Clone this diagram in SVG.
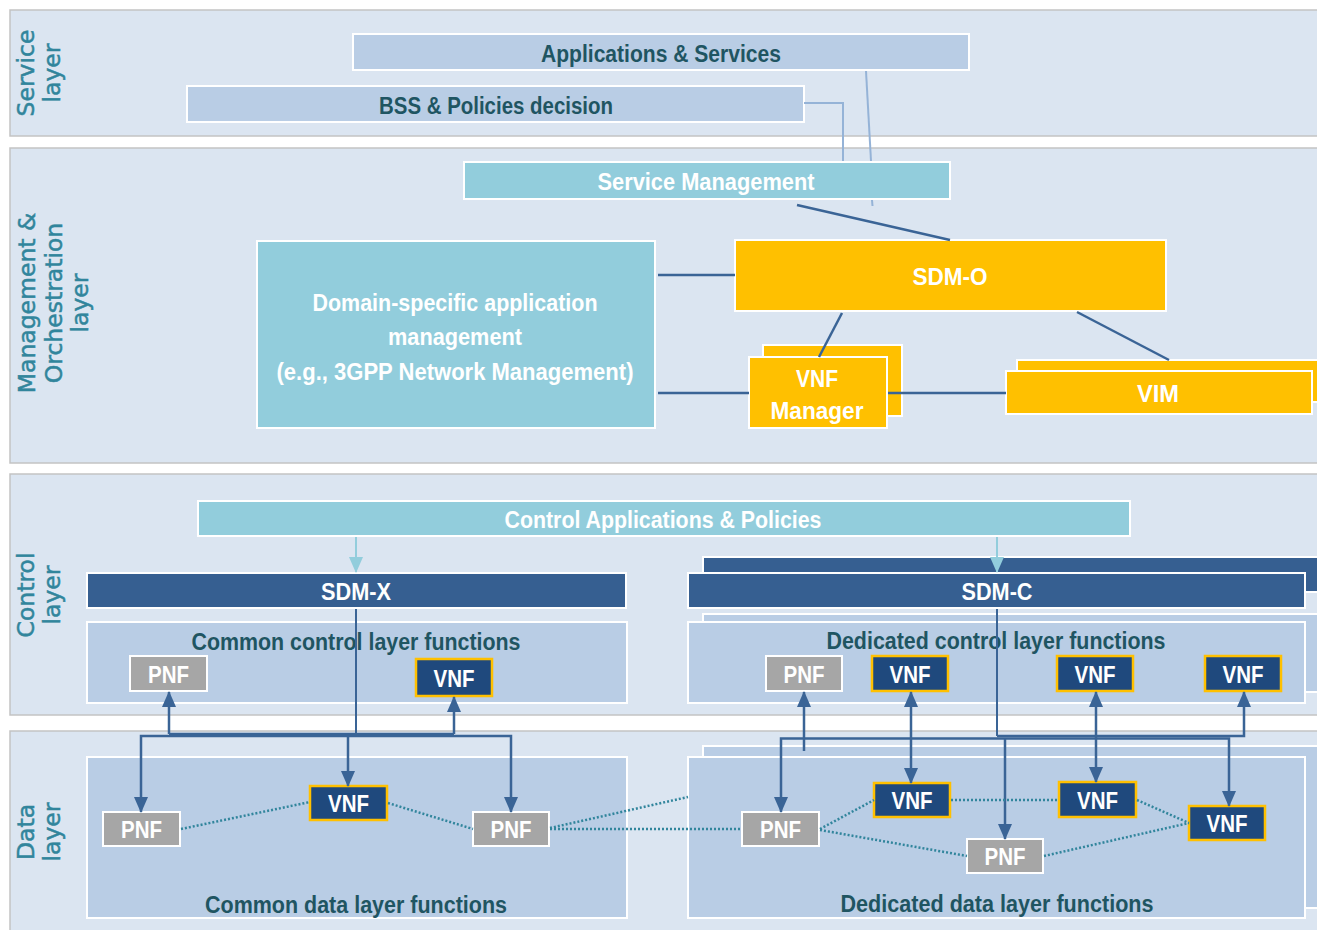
<svg xmlns="http://www.w3.org/2000/svg" width="1317" height="930" viewBox="0 0 1317 930">
<style>
.band{fill:#dbe5f1;stroke:#c3c3c3;stroke-width:1.5}
.lt{fill:#b9cde5;stroke:#fff;stroke-width:2}
.tl{fill:#92cddc;stroke:#fff;stroke-width:2}
.gd{fill:#ffc000;stroke:#fff;stroke-width:2}
.db{fill:#365f91;stroke:#fff;stroke-width:2}
.pnf{fill:#a6a6a6;stroke:#fff;stroke-width:2}
.vnf{fill:#1f497d;stroke:#ffc000;stroke-width:2.5}
.wt{fill:#fff;font-family:"Liberation Sans",Arial,sans-serif;font-weight:bold;font-size:23px;text-anchor:middle}
.dt{fill:#1f5562;font-family:"Liberation Sans",Arial,sans-serif;font-weight:bold;font-size:23px;text-anchor:middle}
.lay{fill:#31859c;stroke:#31859c;stroke-width:0.5;font-family:"DejaVu Sans",sans-serif;font-size:23.5px;text-anchor:middle}
.cn{stroke:#3a6496;stroke-width:2.5;fill:none}
.thin{stroke:#3a6496;stroke-width:2;fill:none}
.dot{stroke:#31859c;stroke-width:2.5;stroke-dasharray:2 2;fill:none}
.sv{stroke:#95b3d7;stroke-width:2;fill:none}
.la{stroke:#92cddc;stroke-width:2;fill:none}
</style>
<defs>
<marker id="ah" markerUnits="userSpaceOnUse" markerWidth="16" markerHeight="14" refX="15" refY="7" orient="auto-start-reverse"><path d="M0,0 L16,7 L0,14 z" fill="#3a6496"/></marker>
<marker id="lah" markerUnits="userSpaceOnUse" markerWidth="16" markerHeight="14" refX="15" refY="7" orient="auto"><path d="M0,0 L16,7 L0,14 z" fill="#92cddc"/></marker>
</defs>
<rect width="1317" height="930" fill="#fff"/>
<g id="bands">
<rect class="band" x="10" y="10" width="1320" height="126"/>
<rect class="band" x="10" y="148" width="1320" height="315"/>
<rect class="band" x="10" y="474" width="1320" height="241"/>
<rect class="band" x="10" y="731" width="1320" height="210"/>
<text class="lay" transform="translate(40,73) rotate(-90)"><tspan x="0" y="-6">Service</tspan><tspan x="0" y="20">layer</tspan></text>
<text class="lay" transform="translate(40,303) rotate(-90)"><tspan x="0" y="-5">Management &amp;</tspan><tspan x="0" y="22">Orchestration</tspan><tspan x="0" y="48">layer</tspan></text>
<text class="lay" transform="translate(40,595) rotate(-90)"><tspan x="0" y="-6">Control</tspan><tspan x="0" y="20">layer</tspan></text>
<text class="lay" transform="translate(40,832) rotate(-90)"><tspan x="0" y="-6">Data</tspan><tspan x="0" y="20">layer</tspan></text>
</g>
<g id="apps"><rect class="lt" x="353" y="34" width="616" height="36"/><text class="dt" x="661" y="61.5" textLength="240" lengthAdjust="spacingAndGlyphs">Applications &amp; Services</text></g>
<g id="bss"><rect class="lt" x="187" y="86" width="617" height="36"/><text class="dt" x="496" y="113.5" textLength="234" lengthAdjust="spacingAndGlyphs">BSS &amp; Policies decision</text></g>
<g id="svcmgmt"><rect class="tl" x="464" y="162" width="486" height="37"/><text class="wt" x="706" y="190" textLength="217" lengthAdjust="spacingAndGlyphs">Service Management</text></g>
<g id="domain"><rect class="tl" x="257" y="241" width="398" height="187"/>
<text class="wt" x="455" y="311" textLength="285" lengthAdjust="spacingAndGlyphs">Domain-specific application</text>
<text class="wt" x="455" y="345" textLength="134" lengthAdjust="spacingAndGlyphs">management</text>
<text class="wt" x="455" y="380" textLength="357" lengthAdjust="spacingAndGlyphs">(e.g., 3GPP Network Management)</text></g>
<g id="sdmo"><rect class="gd" x="735" y="240" width="431" height="71"/><text class="wt" x="950" y="285" textLength="75" lengthAdjust="spacingAndGlyphs">SDM-O</text></g>
<g id="vnfm"><rect class="gd" x="763" y="345" width="139" height="71"/><rect class="gd" x="749" y="357" width="138" height="71"/>
<text class="wt" x="817" y="387" textLength="42" lengthAdjust="spacingAndGlyphs">VNF</text><text class="wt" x="817" y="419" textLength="93" lengthAdjust="spacingAndGlyphs">Manager</text></g>
<g id="vim"><rect class="gd" x="1017" y="360" width="310" height="42"/><rect class="gd" x="1006" y="371" width="306" height="43"/><text class="wt" x="1158" y="402" textLength="42" lengthAdjust="spacingAndGlyphs">VIM</text></g>
<g id="ctrlapps"><rect class="tl" x="198" y="501" width="932" height="35"/><text class="wt" x="663" y="528" textLength="317" lengthAdjust="spacingAndGlyphs">Control Applications &amp; Policies</text></g>
<g id="sdmx"><rect class="db" x="87" y="573" width="539" height="35"/><text class="wt" x="356" y="600" textLength="70" lengthAdjust="spacingAndGlyphs">SDM-X</text></g>
<g id="sdmc"><rect class="db" x="703" y="557" width="624" height="35"/><rect class="db" x="688" y="573" width="617" height="35"/><text class="wt" x="997" y="600" textLength="71" lengthAdjust="spacingAndGlyphs">SDM-C</text></g>
<g id="commonctrl"><rect class="lt" x="87" y="622" width="540" height="81"/><text class="dt" x="356" y="650" textLength="329" lengthAdjust="spacingAndGlyphs">Common control layer functions</text></g>
<g id="dedctrl"><rect class="lt" x="703" y="614" width="624" height="78"/><rect class="lt" x="688" y="622" width="617" height="81"/><text class="dt" x="996" y="649" textLength="339" lengthAdjust="spacingAndGlyphs">Dedicated control layer functions</text></g>
<g id="commondata"><rect class="lt" x="87" y="757" width="540" height="161"/><text class="dt" x="356" y="913" textLength="302" lengthAdjust="spacingAndGlyphs">Common data layer functions</text></g>
<g id="deddata"><rect class="lt" x="703" y="746" width="624" height="162"/><rect class="lt" x="688" y="757" width="617" height="161"/><text class="dt" x="997" y="912" textLength="313" lengthAdjust="spacingAndGlyphs">Dedicated data layer functions</text></g>
<g id="c-pnf1"><rect class="pnf" x="130" y="656" width="77" height="35"/><text class="wt" x="168.5" y="682.5" textLength="41" lengthAdjust="spacingAndGlyphs">PNF</text></g>
<g id="c-vnf1"><rect class="vnf" x="416" y="659" width="76" height="37"/><text class="wt" x="454" y="686.5" textLength="41" lengthAdjust="spacingAndGlyphs">VNF</text></g>
<g id="c-pnf2"><rect class="pnf" x="766" y="656" width="76" height="35"/><text class="wt" x="804" y="682.5" textLength="41" lengthAdjust="spacingAndGlyphs">PNF</text></g>
<g id="c-vnf2"><rect class="vnf" x="872" y="656" width="76" height="35"/><text class="wt" x="910" y="682.5" textLength="41" lengthAdjust="spacingAndGlyphs">VNF</text></g>
<g id="c-vnf3"><rect class="vnf" x="1057" y="656" width="76" height="35"/><text class="wt" x="1095" y="682.5" textLength="41" lengthAdjust="spacingAndGlyphs">VNF</text></g>
<g id="c-vnf4"><rect class="vnf" x="1205" y="656" width="76" height="35"/><text class="wt" x="1243" y="682.5" textLength="41" lengthAdjust="spacingAndGlyphs">VNF</text></g>
<g id="d-pnf1"><rect class="pnf" x="103" y="812" width="77" height="34"/><text class="wt" x="141.5" y="838" textLength="41" lengthAdjust="spacingAndGlyphs">PNF</text></g>
<g id="d-vnf1"><rect class="vnf" x="310" y="786" width="77" height="34"/><text class="wt" x="348.5" y="812" textLength="41" lengthAdjust="spacingAndGlyphs">VNF</text></g>
<g id="d-pnf2"><rect class="pnf" x="473" y="812" width="76" height="34"/><text class="wt" x="511" y="838" textLength="41" lengthAdjust="spacingAndGlyphs">PNF</text></g>
<g id="d-pnf3"><rect class="pnf" x="742" y="812" width="77" height="34"/><text class="wt" x="780.5" y="838" textLength="41" lengthAdjust="spacingAndGlyphs">PNF</text></g>
<g id="d-vnf2"><rect class="vnf" x="874" y="783" width="76" height="34"/><text class="wt" x="912" y="809" textLength="41" lengthAdjust="spacingAndGlyphs">VNF</text></g>
<g id="d-vnf3"><rect class="vnf" x="1059" y="782" width="77" height="35"/><text class="wt" x="1097.5" y="809" textLength="41" lengthAdjust="spacingAndGlyphs">VNF</text></g>
<g id="d-vnf4"><rect class="vnf" x="1189" y="806" width="76" height="34"/><text class="wt" x="1227" y="832" textLength="41" lengthAdjust="spacingAndGlyphs">VNF</text></g>
<g id="d-pnf4"><rect class="pnf" x="967" y="839" width="76" height="34"/><text class="wt" x="1005" y="865" textLength="41" lengthAdjust="spacingAndGlyphs">PNF</text></g>
<g id="connectors">
<path class="sv" d="M804,103 H843 V161"/>
<path class="sv" d="M866,71 L871,161"/>
<path class="sv" d="M872,200 L872.5,206"/>
<path class="cn" d="M797,205 L950,240"/>
<path class="cn" d="M658,275 H735"/>
<path class="cn" d="M658,393 H749"/>
<path class="cn" d="M842,313 L819,357"/>
<path class="cn" d="M1077,312 L1169,360"/>
<path class="cn" d="M888,393 H1006"/>
<path class="la" d="M356,537 V572" marker-end="url(#lah)"/>
<path class="la" d="M997,537 V572" marker-end="url(#lah)"/>
<path class="thin" d="M356,609 V734"/>
<path class="cn" d="M169,734 H454"/>
<path class="cn" d="M169,734 V692" marker-end="url(#ah)"/>
<path class="cn" d="M454,734 V697" marker-end="url(#ah)"/>
<path class="cn" d="M141,812 V736 H511 V812" marker-start="url(#ah)" marker-end="url(#ah)"/>
<path class="cn" d="M348,736 V786" marker-end="url(#ah)"/>
<path class="thin" d="M997,609 V736"/>
<path class="cn" d="M997,736 H1244 V692" marker-end="url(#ah)"/>
<path class="cn" d="M781,812 V738.5 H1229 V806" marker-start="url(#ah)" marker-end="url(#ah)"/>
<path class="cn" d="M1005,738 V839" marker-end="url(#ah)"/>
<path class="cn" d="M804,751 V692" marker-end="url(#ah)"/>
<path class="cn" d="M911,692 V783" marker-start="url(#ah)" marker-end="url(#ah)"/>
<path class="cn" d="M1096,692 V782" marker-start="url(#ah)" marker-end="url(#ah)"/>
<path class="dot" d="M181,829 L310,802"/>
<path class="dot" d="M388,803 L473,829"/>
<path class="dot" d="M550,829 H742"/>
<path class="dot" d="M550,828 L688,797"/>
<path class="dot" d="M820,829 L874,800"/>
<path class="dot" d="M820,830 L967,856"/>
<path class="dot" d="M951,800 H1059"/>
<path class="dot" d="M1137,800 L1189,823"/>
<path class="dot" d="M1044,856 L1189,823"/>
</g>
</svg>
